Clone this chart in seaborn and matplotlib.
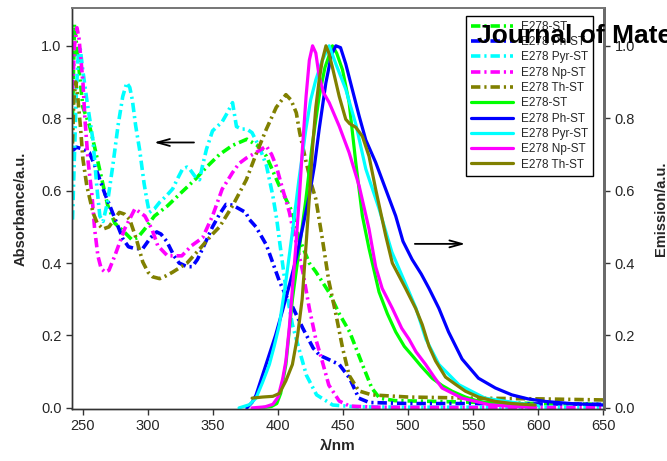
import numpy as np
import pandas as pd
import matplotlib
matplotlib.use("Agg")
import matplotlib.pyplot as plt
import seaborn as sns

# ---------------- data ----------------
labels_abs = ["E278-ST", "E278 Ph-ST", "E278 Pyr-ST", "E278 Np-ST", "E278 Th-ST"]
labels_em = ["E278-ST", "E278 Ph-ST", "E278 Pyr-ST", "E278 Np-ST", "E278 Th-ST"]
colors = ["#00FF00", "#0000FF", "#00FFFF", "#FF00FF", "#808000"]

# Absorption (dash-dot)
abs_st_x = [242, 243.5, 246, 250, 255, 259, 264.6, 269, 274.5, 282, 287.5, 292, 297.5, 305, 315, 326, 336,
            345, 355, 365, 376, 384, 391, 401, 411, 416, 424, 429, 439, 447, 455, 465, 472, 478, 490, 520,
            560, 600, 650]
abs_st_y = [0.80, 1.06, 0.97, 0.83, 0.78, 0.72, 0.63, 0.56, 0.51, 0.485, 0.465, 0.47, 0.494, 0.53, 0.558,
            0.596, 0.63, 0.665, 0.70, 0.725, 0.742, 0.725, 0.695, 0.613, 0.54, 0.47, 0.40, 0.376, 0.32,
            0.26, 0.21, 0.118, 0.055, 0.027, 0.02, 0.018, 0.015, 0.012, 0.01]

abs_ph_x = [242, 245, 250, 255, 259, 263, 267, 270.7, 276, 280.7, 285, 290, 296, 302, 306.7, 310, 314.4,
            320, 324, 330, 334, 338, 342, 349.6, 355, 360, 365, 370, 375, 378, 383, 391, 396, 401, 406,
            411, 419, 427, 432, 437, 447, 455, 462, 470, 500, 550, 600, 650]
abs_ph_y = [0.71, 0.72, 0.715, 0.705, 0.67, 0.63, 0.59, 0.558, 0.51, 0.467, 0.445, 0.44, 0.44, 0.47,
            0.486, 0.48, 0.46, 0.42, 0.40, 0.39, 0.39, 0.41, 0.44, 0.50, 0.535, 0.562, 0.56, 0.55, 0.54,
            0.52, 0.50, 0.45, 0.40, 0.35, 0.31, 0.28, 0.22, 0.165, 0.145, 0.137, 0.12, 0.082, 0.027,
            0.015, 0.012, 0.012, 0.011, 0.01]

abs_pyr_x = [242, 243.5, 245, 246.5, 248, 250, 253, 257.7, 260.7, 263, 265.5, 269, 273, 277, 280.6, 283.7,
             286, 288, 290.5, 293.7, 297, 299, 301, 305, 309, 314, 319, 323, 326.6, 330, 332, 336, 339.6,
             342, 345, 349.6, 357, 361, 365, 368, 372, 376, 380, 385.6, 391, 396, 399, 401.5, 406, 411,
             416.6, 421.8, 429.6, 442, 460, 500, 550, 600, 650]
abs_pyr_y = [0.52, 0.70, 0.88, 0.98, 0.99, 0.93, 0.85, 0.74, 0.61, 0.53, 0.515, 0.57, 0.67, 0.78, 0.86,
             0.898, 0.885, 0.85, 0.78, 0.71, 0.62, 0.577, 0.54, 0.55, 0.568, 0.585, 0.605, 0.635, 0.66,
             0.665, 0.66, 0.64, 0.63, 0.67, 0.715, 0.765, 0.79, 0.815, 0.843, 0.777, 0.77, 0.77, 0.76,
             0.72, 0.67, 0.585, 0.52, 0.45, 0.33, 0.23, 0.156, 0.09, 0.036, 0.008, 0.003, 0.002, 0.002,
             0.002, 0.002]

abs_np_x = [242, 243.5, 245.4, 247, 250, 251.5, 254, 257, 259, 261.5, 264, 267, 270, 274.5, 282, 290,
            297.6, 303, 307.5, 315, 326, 333.5, 342, 349.6, 357, 365, 370, 375.6, 383, 391, 395, 398.6,
            403.5, 408.7, 411, 415, 419, 424, 429, 434, 439, 447, 455, 475, 550, 600, 650]
abs_np_y = [0.88, 1.0, 1.05, 1.02, 0.90, 0.80, 0.68, 0.585, 0.494, 0.42, 0.385, 0.375, 0.38, 0.42, 0.494,
            0.55, 0.53, 0.494, 0.448, 0.42, 0.42, 0.448, 0.47, 0.53, 0.604, 0.65, 0.675, 0.69, 0.705,
            0.723, 0.70, 0.668, 0.604, 0.54, 0.50, 0.44, 0.376, 0.275, 0.19, 0.128, 0.063, 0.019, 0.005,
            0.002, 0.001, 0.001, 0.001]

abs_th_x = [242, 243, 244.5, 246, 248, 250, 253, 257.7, 261, 265.5, 270, 274, 278, 282, 286, 291, 296, 300,
            303.6, 309, 314, 319, 330, 340, 349.6, 355, 365, 375.6, 383, 391, 398.6, 406, 410, 414, 416.6,
            421.6, 426, 429, 434, 439, 444.6, 449.6, 454.6, 462, 472, 500, 550, 600, 650]
abs_th_y = [0.73, 0.85, 0.90, 0.86, 0.78, 0.687, 0.613, 0.54, 0.51, 0.494, 0.50, 0.52, 0.54, 0.535, 0.52,
            0.467, 0.403, 0.375, 0.362, 0.357, 0.365, 0.375, 0.40, 0.44, 0.48, 0.50, 0.558, 0.63, 0.70,
            0.77, 0.83, 0.865, 0.85, 0.815, 0.76, 0.678, 0.613, 0.577, 0.467, 0.35, 0.256, 0.165, 0.09,
            0.047, 0.036, 0.03, 0.027, 0.025, 0.022]

# Emission (solid)
em_st_x = [386, 395, 399, 402, 406, 408.5, 411, 416.3, 421.4, 426, 431.6, 436, 441.8, 445, 449.5, 454.6,
           459.7, 464.8, 469.9, 477.6, 484, 490.4, 497, 503, 510, 518.4, 526, 533.8, 544, 554.2, 575, 598]
em_st_y = [0.0, 0.004, 0.012, 0.04, 0.12, 0.21, 0.30, 0.44, 0.577, 0.72, 0.86, 0.94, 1.0, 0.98, 0.934,
           0.843, 0.678, 0.53, 0.44, 0.32, 0.26, 0.21, 0.17, 0.145, 0.115, 0.082, 0.062, 0.046, 0.03,
           0.018, 0.008, 0.004]

em_ph_x = [376, 380, 383, 388, 393, 398, 403.5, 408, 413.7, 419, 424, 428, 431.6, 436.7, 441, 444.4, 448,
           452, 457, 462.3, 467.4, 475, 482.7, 490.4, 496, 503, 510, 516, 523.6, 531, 541.4, 554, 567,
           579.7, 592, 605, 625, 644, 650]
em_ph_y = [0.0, 0.015, 0.035, 0.09, 0.145, 0.20, 0.27, 0.33, 0.41, 0.50, 0.586, 0.67, 0.77, 0.897, 0.975,
           1.0, 0.995, 0.95, 0.88, 0.806, 0.74, 0.678, 0.604, 0.53, 0.46, 0.41, 0.37, 0.33, 0.275, 0.21,
           0.135, 0.082, 0.055, 0.036, 0.025, 0.018, 0.012, 0.009, 0.008]

em_pyr_x = [370, 378, 383, 388, 393.3, 397, 401, 406, 411, 416, 421.4, 425, 429, 434, 439.3, 444.4, 452,
            460, 467.4, 477.6, 487.5, 498.3, 506, 513.6, 523.6, 539, 559, 585, 600]
em_pyr_y = [0.0, 0.009, 0.027, 0.07, 0.12, 0.17, 0.23, 0.35, 0.486, 0.63, 0.77, 0.85, 0.906, 0.96, 1.0,
            0.95, 0.88, 0.78, 0.66, 0.55, 0.43, 0.34, 0.275, 0.19, 0.12, 0.064, 0.027, 0.013, 0.006]

em_np_x = [380, 390, 396, 400, 403.5, 406, 408.6, 411, 413.7, 416.3, 418.8, 421.5, 424, 426.5, 429, 431.6,
           435, 439.3, 447, 454.6, 462.3, 469.9, 475, 480, 487.8, 495, 500.6, 506, 513.4, 520, 526,
           541.4, 562, 580, 598]
em_np_y = [0.0, 0.003, 0.01, 0.03, 0.08, 0.13, 0.22, 0.33, 0.45, 0.58, 0.72, 0.86, 0.96, 1.0, 0.98, 0.915,
           0.87, 0.843, 0.778, 0.705, 0.613, 0.494, 0.39, 0.33, 0.275, 0.22, 0.19, 0.155, 0.12, 0.085,
           0.055, 0.027, 0.009, 0.004, 0.002]

em_th_x = [380, 388, 396, 401, 406, 411, 415, 418.5, 421.5, 424, 426.5, 429, 431.6, 434, 436.8, 439, 441.8,
           447, 452, 455, 459.7, 464.8, 469.9, 475, 482.7, 487.8, 498, 505.7, 510.8, 516, 521, 528.7,
           536.4, 544, 554, 567, 580, 597.6]
em_th_y = [0.027, 0.03, 0.032, 0.04, 0.075, 0.12, 0.20, 0.30, 0.45, 0.58, 0.72, 0.83, 0.906, 0.96, 1.0,
           0.98, 0.94, 0.86, 0.797, 0.785, 0.775, 0.75, 0.695, 0.604, 0.476, 0.40, 0.33, 0.275, 0.23,
           0.17, 0.13, 0.085, 0.065, 0.046, 0.03, 0.018, 0.012, 0.008]

abs_series = [(abs_st_x, abs_st_y), (abs_ph_x, abs_ph_y), (abs_pyr_x, abs_pyr_y),
              (abs_np_x, abs_np_y), (abs_th_x, abs_th_y)]
em_series = [(em_st_x, em_st_y), (em_ph_x, em_ph_y), (em_pyr_x, em_pyr_y),
             (em_np_x, em_np_y), (em_th_x, em_th_y)]

x_ticks = [250, 300, 350, 400, 450, 500, 550, 600, 650]
y_ticks = [0.0, 0.2, 0.4, 0.6, 0.8, 1.0]

# ---------------- plotting ----------------
sns.set_style("ticks")
plt.rcParams["font.family"] = ["Liberation Sans", "DejaVu Sans"]

fig = plt.figure(figsize=(6.67, 4.61), dpi=100)
ax = fig.add_axes([72 / 667, 1 - 409 / 461, (604 - 72) / 667, (409 - 8.5) / 461])
ax2 = ax.twinx()

dashdot = (0, (2.6, 1.1, 0.6, 1.1))
for (xs, ys), c, lab in zip(abs_series, colors, labels_abs):
    df = pd.DataFrame({"x": xs, "y": ys})
    sns.lineplot(data=df, x="x", y="y", ax=ax, color=c, linewidth=2.6, linestyle=dashdot,
                 sort=False, estimator=None, label=lab)
for (xs, ys), c, lab in zip(em_series, colors, labels_em):
    df = pd.DataFrame({"x": xs, "y": ys})
    sns.lineplot(data=df, x="x", y="y", ax=ax2, color=c, linewidth=2.3, linestyle="-",
                 sort=False, estimator=None, label=lab)

for a in (ax, ax2):
    a.set_xlim(241.6, 650.5)
    a.set_ylim(-0.003, 1.103)
    a.set_yticks(y_ticks)
    a.set_yticklabels([f"{v:.1f}" for v in y_ticks])
    if a.get_legend() is not None:
        a.get_legend().remove()

ax.set_xticks(x_ticks)
ax.set_xticklabels([str(v) for v in x_ticks])
ax.tick_params(axis="both", labelsize=10.5, length=4, width=1, color="#333333", direction="out")
ax2.tick_params(axis="y", labelsize=10.5, length=4, width=1, color="#333333", direction="out")

ax.set_xlabel("λ/nm", fontsize=11, fontweight="bold", labelpad=4)
ax.set_ylabel("Absorbance/a.u.", fontsize=10.5, fontweight="bold", labelpad=10)
ax2.set_ylabel("Emission/a.u.", fontsize=10.5, fontweight="bold", labelpad=14)

for a in (ax, ax2):
    a.spines["left"].set_color("#333333")
    a.spines["bottom"].set_color("#333333")
    a.spines["top"].set_color("#777777")
    a.spines["right"].set_color("#6a6a6a")
    a.spines["left"].set_linewidth(1.0)
    a.spines["bottom"].set_linewidth(1.0)
    a.spines["top"].set_linewidth(1.3)
    a.spines["right"].set_linewidth(2.0)

# arrows
ax.annotate("", xy=(302.5, 0.733), xytext=(337.5, 0.733),
            arrowprops=dict(arrowstyle="->,head_length=0.9,head_width=0.25", lw=1.3, color="black"))
ax2.annotate("", xy=(546, 0.453), xytext=(503, 0.453),
             arrowprops=dict(arrowstyle="->,head_length=0.9,head_width=0.25", lw=1.3, color="black"))

# legend
handles = ax.get_lines()[:5] + ax2.get_lines()[:5]
labs = labels_abs + labels_em
leg = ax2.legend(handles, labs, loc="upper right", bbox_to_anchor=(0.9793, 0.9825),
                 bbox_transform=ax2.transAxes, borderaxespad=0, fontsize=8.5, frameon=True,
                 fancybox=False, edgecolor="black", framealpha=1, handlelength=3.6,
                 handletextpad=0.6, labelspacing=0.28, borderpad=0.45)
leg.get_frame().set_linewidth(1.0)

# overlapping header text, as in the reference
fig.text(477 / 667, 1 - 43 / 461, "Journal of Materials Chemistry C", fontsize=19,
         fontweight="bold", ha="left", va="baseline", color="black")

fig.savefig("out.png", dpi=100)
